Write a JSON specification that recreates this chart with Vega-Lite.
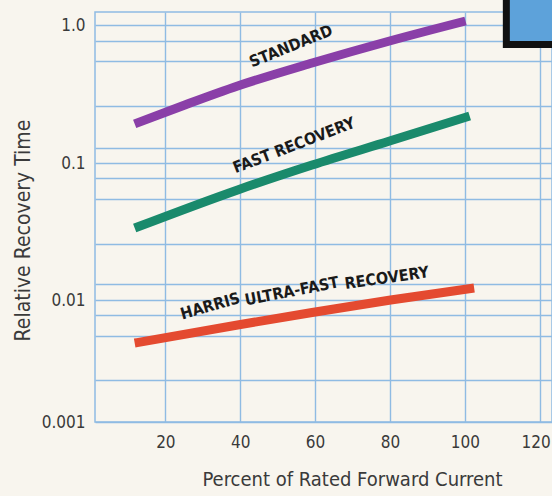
{
  "$schema": "https://vega.github.io/schema/vega-lite/v6.json",
  "width": 457,
  "height": 410,
  "autosize": "none",
  "padding": {"left": 95, "top": 12, "right": 0, "bottom": 74},
  "background": "#f8f5ee",
  "config": {
    "view": {"stroke": "#8fbbe3", "strokeWidth": 1.5, "fill": "#f8f5ee"},
    "axis": {
      "domain": false,
      "ticks": false,
      "tickSize": 0,
      "gridColor": "#8fbbe3",
      "gridWidth": 1.4,
      "gridOpacity": 1,
      "labelFont": "DejaVu Sans Condensed, DejaVu Sans",
      "titleFont": "DejaVu Sans Condensed, DejaVu Sans",
      "labelColor": "#3a3a3a",
      "titleColor": "#3a3a3a",
      "titleFontWeight": "normal"
    }
  },
  "datasets": {
    "curves": [
      {"series": "STANDARD", "pct": 11.8, "t": 0.192},
      {"series": "STANDARD", "pct": 25.2, "t": 0.2633},
      {"series": "STANDARD", "pct": 39.3, "t": 0.3614},
      {"series": "STANDARD", "pct": 59.2, "t": 0.53},
      {"series": "STANDARD", "pct": 79.9, "t": 0.766},
      {"series": "STANDARD", "pct": 100.2, "t": 1.069},
      {"series": "FAST RECOVERY", "pct": 11.8, "t": 0.0335},
      {"series": "FAST RECOVERY", "pct": 39.3, "t": 0.0636},
      {"series": "FAST RECOVERY", "pct": 59.2, "t": 0.0967},
      {"series": "FAST RECOVERY", "pct": 79.9, "t": 0.1443},
      {"series": "FAST RECOVERY", "pct": 101.3, "t": 0.219},
      {"series": "HARRIS ULTRA-FAST RECOVERY", "pct": 11.8, "t": 0.00444},
      {"series": "HARRIS ULTRA-FAST RECOVERY", "pct": 39.3, "t": 0.00624},
      {"series": "HARRIS ULTRA-FAST RECOVERY", "pct": 59.2, "t": 0.0079},
      {"series": "HARRIS ULTRA-FAST RECOVERY", "pct": 80.2, "t": 0.01},
      {"series": "HARRIS ULTRA-FAST RECOVERY", "pct": 102.5, "t": 0.01224}
    ],
    "labels": [
      {"text": "STANDARD", "pct": 53.6, "t": 0.7, "angle": -22},
      {"text": "FAST RECOVERY", "pct": 54.4, "t": 0.134, "angle": -21},
      {"text": "HARRIS", "pct": 32.0, "t": 0.0089, "angle": -16},
      {"text": "ULTRA-FAST", "pct": 53.8, "t": 0.01155, "angle": -11},
      {"text": "RECOVERY", "pct": 79.2, "t": 0.01445, "angle": -8}
    ],
    "box": [
      {"pct": 111.1, "pct2": 140, "t": 0.7224, "t2": 3.49}
    ]
  },
  "layer": [
    {
      "data": {"name": "curves"},
      "mark": {"type": "line", "strokeWidth": 9, "strokeCap": "butt", "interpolate": "monotone"},
      "encoding": {
        "x": {
          "field": "pct", "type": "quantitative",
          "scale": {"domain": [1.2, 123.3], "nice": false, "zero": false},
          "axis": {
            "values": [20, 40, 60, 80, 100, 120],
            "title": "Percent of Rated Forward Current",
            "labelFontSize": 17,
            "labelPadding": 12,
            "labelBaseline": "top",
            "labelOffset": {"condition": {"test": "datum.value == 120", "value": -4}, "value": 0},
            "titleFontSize": 20,
            "titleX": 257,
            "titleY": 57,
            "titleBaseline": "middle"
          }
        },
        "y": {
          "field": "t", "type": "quantitative",
          "scale": {"type": "log", "domain": [0.001, 0.01, 0.1, 1, 1.242], "range": [410, 288, 151, 13, 0], "nice": false},
          "axis": {
            "values": [0.001, 0.00221, 0.00507, 0.00753, 0.01, 0.01309, 0.0256, 0.0546, 0.0777, 0.1, 0.1284, 0.259, 0.548, 0.766, 1],
            "labelExpr": "datum.value == 1 ? '1.0' : datum.value == 0.1 ? '0.1' : datum.value == 0.01 ? '0.01' : datum.value == 0.001 ? '0.001' : ''",
            "title": "Relative Recovery Time",
            "labelFontSize": 17,
            "labelPadding": 10,
            "titleFontSize": 21,
            "titleX": -72,
            "titleY": 218,
            "titleBaseline": "middle"
          }
        },
        "color": {
          "field": "series", "type": "nominal",
          "scale": {"domain": ["STANDARD", "FAST RECOVERY", "HARRIS ULTRA-FAST RECOVERY"], "range": ["#8a3fa8", "#1a8a6c", "#e44a30"]},
          "legend": null
        }
      }
    },
    {
      "data": {"name": "box"},
      "mark": {"type": "rect", "fill": "#5da2da", "stroke": "#111111", "strokeWidth": 7, "clip": false},
      "encoding": {
        "x": {"field": "pct", "type": "quantitative"},
        "x2": {"field": "pct2"},
        "y": {"field": "t", "type": "quantitative"},
        "y2": {"field": "t2"}
      }
    },
    {
      "data": {"name": "labels"},
      "mark": {"type": "text", "font": "DejaVu Sans Condensed, DejaVu Sans", "fontWeight": "bold", "fontSize": 16, "color": "#1a1a1a", "align": "center", "baseline": "middle"},
      "encoding": {
        "x": {"field": "pct", "type": "quantitative"},
        "y": {"field": "t", "type": "quantitative"},
        "text": {"field": "text"},
        "angle": {"field": "angle", "type": "quantitative", "scale": null}
      }
    }
  ]
}
